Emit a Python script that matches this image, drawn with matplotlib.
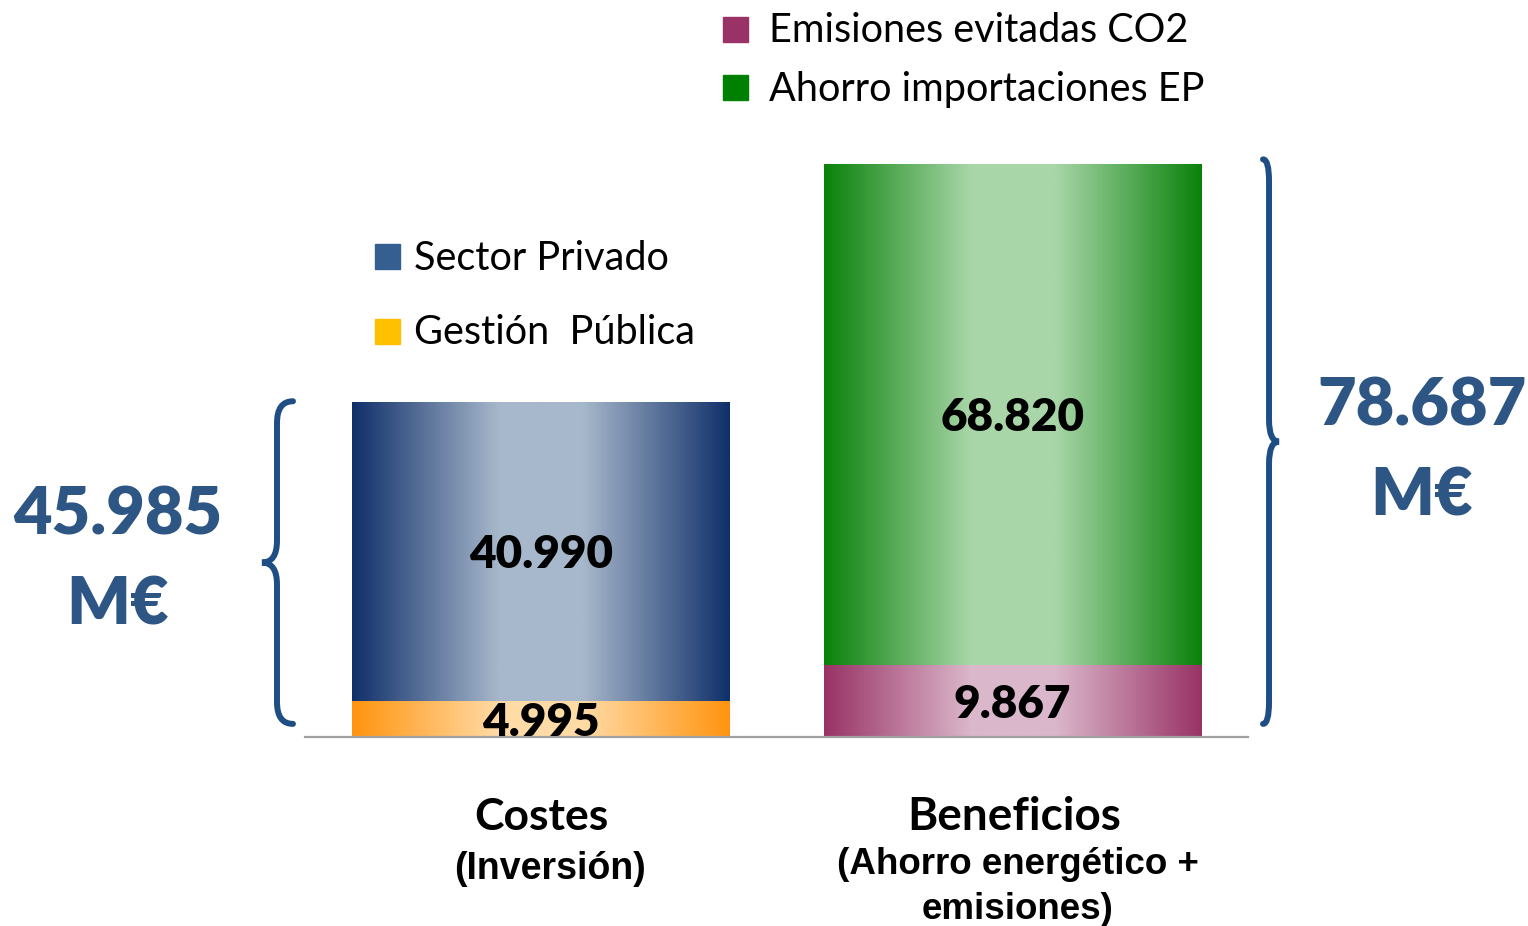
import numpy as np
import matplotlib
matplotlib.use('Agg')
import matplotlib.pyplot as plt
from matplotlib.colors import to_rgb
from matplotlib.path import Path
from matplotlib.patches import PathPatch, Rectangle

# data
categories = ['Costes', 'Beneficios']
cat_notes = ['(Inversión)', '(Ahorro energético +\nemisiones)']
bottom_names = ['Gestión  Pública', 'Emisiones evitadas CO2']
top_names = ['Sector Privado', 'Ahorro importaciones EP']
bottom_values = [4.995, 9.867]
top_values = [40.990, 68.820]
bottom_text = ['4.995', '9.867']
top_text = ['40.990', '68.820']
total_text = ['45.985', '78.687']

# gradient colours: (edge, centre)
bottom_grad = [('#ff9410', '#ffdba6'), ('#993366', '#dbb8cb')]
top_grad = [('#10306a', '#a8b8cc'), ('#0a820a', '#a9d6a9')]
legend_cols = {'Sector Privado': '#355f91', 'Gestión  Pública': '#ffc000',
               'Emisiones evitadas CO2': '#993366',
               'Ahorro importaciones EP': '#008000'}

W, H = 1528, 926
BLUE = '#2e5684'
BRACE = '#1f4e85'


def fx(x):
    return x / W


def fy(y):
    return 1 - y / H


def gradient(edge, centre, n=256):
    t = np.linspace(0, 1, n)
    s = np.clip((1 - np.abs(2 * t - 1)) / 0.78, 0, 1)
    e = np.array(to_rgb(edge))
    c = np.array(to_rgb(centre))
    img = e[None, :] + (c - e)[None, :] * s[:, None]
    return img[None, :, :]


def fill_bars(ax, bars, grads):
    for b, (edge, centre) in zip(bars, grads):
        x0, y0 = b.get_x(), b.get_y()
        im = ax.imshow(gradient(edge, centre), aspect='auto',
                       extent=(x0, x0 + b.get_width(), y0, y0 + b.get_height()),
                       zorder=1)
        im.set_clip_path(b)


def brace(ax, x_end, x_spine, x_tip, y0, y1, r):
    ym = (y0 + y1) / 2
    verts = [(x_end, y1), (x_spine, y1), (x_spine, y1 - r),
             (x_spine, ym + r), (x_spine, ym), (x_tip, ym),
             (x_spine, ym), (x_spine, ym - r),
             (x_spine, y0 + r), (x_spine, y0), (x_end, y0)]
    codes = [Path.MOVETO, Path.CURVE3, Path.CURVE3,
             Path.LINETO, Path.CURVE3, Path.CURVE3,
             Path.CURVE3, Path.CURVE3,
             Path.LINETO, Path.CURVE3, Path.CURVE3]
    ax.add_patch(PathPatch(Path(verts, codes), fill=False, edgecolor=BRACE,
                           linewidth=4.3, capstyle='round', clip_on=False))


fig = plt.figure(figsize=(15.28, 9.26), dpi=100)
ax = fig.add_axes([fx(305), fy(737), fx(943), 597.4 / H])
ax.set_xlim(-0.5, 1.5)
ax.set_ylim(0, 82)
ax.axis('off')

x = np.arange(len(categories))
b1 = ax.bar(x, bottom_values, width=0.8, color='none', edgecolor='none')
b2 = ax.bar(x, top_values, width=0.8, bottom=bottom_values, color='none',
            edgecolor='none')
fill_bars(ax, b1, bottom_grad)
fill_bars(ax, b2, top_grad)
ax.set_xlim(-0.5, 1.5)
ax.set_ylim(0, 82)
ax.axhline(0, color='#a0a0a0', linewidth=1.6, zorder=3, clip_on=False)

for i in range(len(categories)):
    ax.text(x[i], bottom_values[i] / 2, bottom_text[i], ha='center',
            va='center_baseline', fontsize=33, fontweight='heavy',
            family='Lato', color='black', zorder=4)
    ax.text(x[i], bottom_values[i] + top_values[i] / 2, top_text[i],
            ha='center', va='center_baseline', fontsize=33,
            fontweight='heavy', family='Lato', color='black', zorder=4)

# braces
tot = [bottom_values[i] + top_values[i] for i in range(2)]
brace(ax, -0.5255, -0.5594, -0.5913, 1.8, tot[0] + 0.1, 3.0)
brace(ax, 1.5318, 1.5446, 1.5658, 1.8, tot[1] + 0.6, 3.0)

# totals
big = dict(ha='center', va='center', fontsize=48, fontweight='heavy',
           family='Lato', color=BLUE)
fig.text(fx(118), fy(515), total_text[0], **big)
fig.text(fx(118), fy(605), 'M€', **big)
fig.text(fx(1422), fy(406), total_text[1], **big)
fig.text(fx(1422), fy(496), 'M€', **big)

# category labels
fig.text(fx(541), fy(817), categories[0], ha='center', va='center',
         fontsize=32, fontweight='bold', family='Lato')
fig.text(fx(550), fy(869), cat_notes[0], ha='center', va='center',
         fontsize=27, fontweight='bold', family='Liberation Sans')
fig.text(fx(1014), fy(817), categories[1], ha='center', va='center',
         fontsize=33, fontweight='bold', family='Lato')
fig.text(fx(1018), fy(887), cat_notes[1], ha='center', va='center',
         fontsize=26.5, fontweight='bold', family='Liberation Sans',
         linespacing=1.35)

# legends
legend_pos = [(bottom_names[1], 723, 769, 29), (top_names[1], 723, 769, 87),
              (top_names[0], 375, 414, 256), (bottom_names[0], 375, 414, 331)]
for name, sx, tx, ly in legend_pos:
    fig.add_artist(Rectangle((fx(sx), fy(ly + 13)), 25 / W, 25 / H,
                             transform=fig.transFigure,
                             color=legend_cols[name]))
    fig.text(fx(tx), fy(ly + 2), name, ha='left', va='center',
             fontsize=28.5, family='Lato', color='black')

fig.savefig('out.png', dpi=100)
